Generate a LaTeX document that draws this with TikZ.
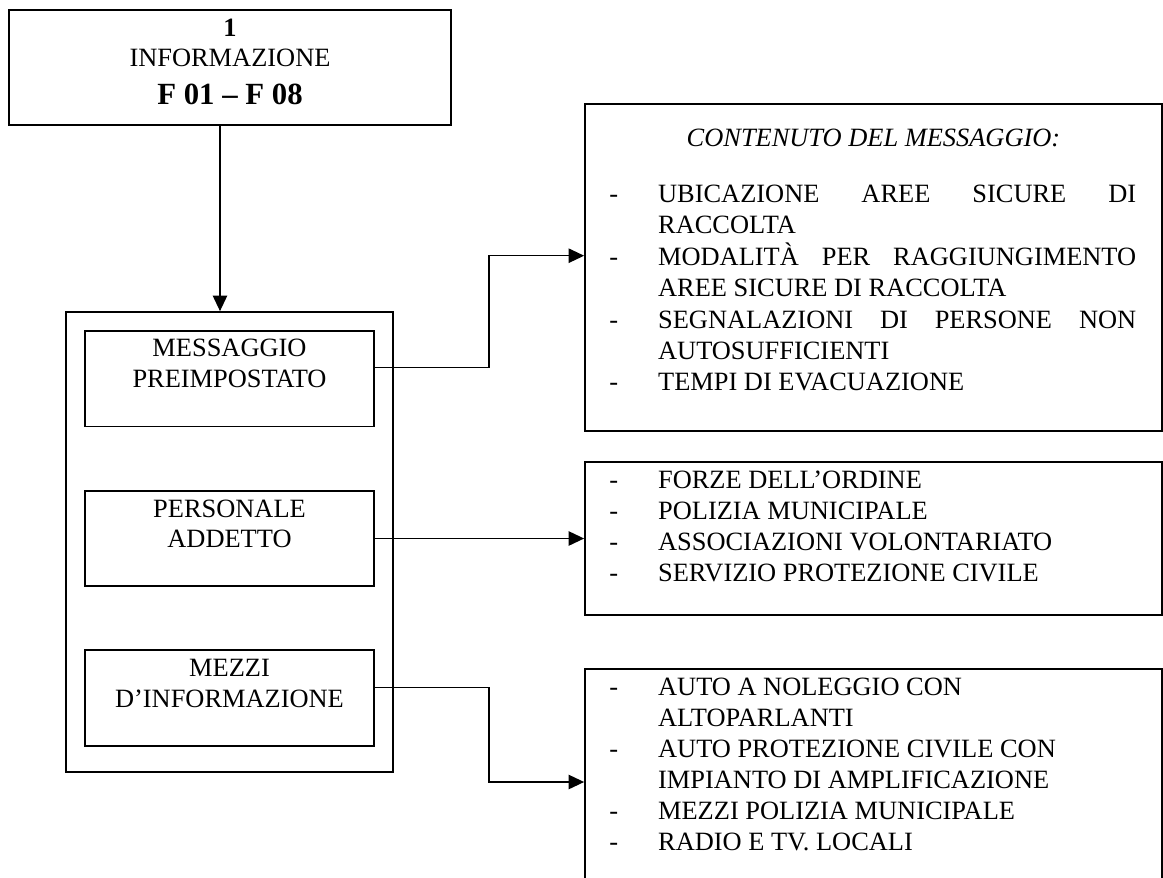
\documentclass[tikz,border=0pt]{standalone}
\usepackage{fontspec}
\setmainfont{Liberation Serif}
\usetikzlibrary{arrows.meta}
\newcommand\pxu{0.4545pt}
\newcommand\fsz{\fontsize{12}{14}\selectfont}
\begin{document}
\begin{tikzpicture}[x=0.4545pt, y=-0.4545pt,
  box/.style={draw, line width=0.8pt, inner sep=0pt},
  ctr/.style={inner sep=0pt, anchor=base, font=\fsz},
  lft/.style={inner sep=0pt, anchor=base west, font=\fsz},
  conn/.style={line width=0.6pt},
  arr/.style={line width=0.6pt, -{Triangle[length=7pt,width=6.5pt]}}]
\useasboundingbox (0,0) rectangle (1163,877);
\clip (0,0) rectangle (1163,877);

% top box
\node[box, minimum width=442*\pxu, minimum height=115*\pxu] (T) at (230,67.5) {};
\node[ctr, font=\fsz\bfseries] (t1) at (230,36.7) {1};
\node[ctr] (t2) at (230,66.7) {INFORMAZIONE};
\node[ctr, font=\fontsize{14}{16}\selectfont\bfseries] (t3) at (230,104) {F 01 – F 08};

% container and inner boxes
\node[box, minimum width=327*\pxu, minimum height=460*\pxu] (C) at (229.5,542) {};
\node[box, minimum width=289*\pxu, minimum height=95.5*\pxu] (m1) at (229.5,378.75) {};
\node[box, minimum width=289*\pxu, minimum height=95*\pxu] (m2) at (229.5,538.5) {};
\node[box, minimum width=289*\pxu, minimum height=96*\pxu] (m3) at (229.5,698) {};
\node[ctr] (m1a) at (229.5,356.7) {MESSAGGIO};
\node[ctr] (m1b) at (229.5,387.7) {PREIMPOSTATO};
\node[ctr] (m2a) at (229.5,517.7) {PERSONALE};
\node[ctr] (m2b) at (229.5,547.7) {ADDETTO};
\node[ctr] (m3a) at (229.5,676) {MEZZI};
\node[ctr] (m3b) at (229.5,707.7) {D’INFORMAZIONE};

% right boxes
\node[box, minimum width=577*\pxu, minimum height=327*\pxu] (r1) at (873.5,267.5) {};
\node[box, minimum width=577*\pxu, minimum height=153*\pxu] (r2) at (873.5,538.5) {};
\node[box, minimum width=577*\pxu, minimum height=226*\pxu] (r3) at (873.5,782) {};

% box 1 text
\node[ctr, font=\fsz\itshape] (r1t) at (873.5,146.7) {CONTENUTO DEL MESSAGGIO:};
\node[lft] (d11) at (609,202) {-};
\node[lft] (l11) at (657.7,202) {\makebox[217.3pt][s]{UBICAZIONE\hfill AREE\hfill SICURE\hfill DI}};
\node[lft] (l12) at (657.7,233.5) {RACCOLTA};
\node[lft] (d12) at (609,265) {-};
\node[lft] (l13) at (657.7,265) {\makebox[217.3pt][s]{MODALITÀ\hfill PER\hfill RAGGIUNGIMENTO}};
\node[lft] (l14) at (657.7,296.5) {AREE SICURE DI RACCOLTA};
\node[lft] (d13) at (609,328) {-};
\node[lft] (l15) at (657.7,328) {\makebox[217.3pt][s]{SEGNALAZIONI\hfill DI\hfill PERSONE\hfill NON}};
\node[lft] (l16) at (657.7,359.5) {AUTOSUFFICIENTI};
\node[lft] (d14) at (609,390) {-};
\node[lft] (l17) at (657.7,390) {TEMPI DI EVACUAZIONE};

% box 2 text
\node[lft] (d21) at (609,488) {-};
\node[lft] (l21) at (657.7,488) {FORZE DELL’ORDINE};
\node[lft] (d22) at (609,519) {-};
\node[lft] (l22) at (657.7,519) {POLIZIA MUNICIPALE};
\node[lft] (d23) at (609,550) {-};
\node[lft] (l23) at (657.7,550) {ASSOCIAZIONI VOLONTARIATO};
\node[lft] (d24) at (609,581.5) {-};
\node[lft] (l24) at (657.7,581.5) {SERVIZIO PROTEZIONE CIVILE};

% box 3 text
\node[lft] (d31) at (609,695) {-};
\node[lft] (l31) at (657.7,695) {AUTO A NOLEGGIO CON};
\node[lft] (l32) at (657.7,726) {ALTOPARLANTI};
\node[lft] (d33) at (609,757) {-};
\node[lft] (l33) at (657.7,757) {AUTO PROTEZIONE CIVILE CON};
\node[lft] (l34) at (657.7,788) {IMPIANTO DI AMPLIFICAZIONE};
\node[lft] (d35) at (609,819) {-};
\node[lft] (l35) at (657.7,819) {MEZZI POLIZIA MUNICIPALE};
\node[lft] (d36) at (609,850) {-};
\node[lft] (l36) at (657.7,850) {RADIO E TV. LOCALI};

% connectors
\coordinate (tA) at ([xshift=-10*\pxu]T.south);
\draw[arr] (tA) -- (tA |- C.north);

\coordinate (k) at (489,0);
\coordinate (p1) at ([yshift=11.45*\pxu]m1.east);
\coordinate (q1) at ([yshift=11.8*\pxu]r1.west);
\draw[arr] (p1) -- (p1 -| k) |- (q1);

\draw[arr] (m2.east) -- (m2.east -| r2.west);

\coordinate (p3) at ([yshift=10.3*\pxu]m3.east);
\draw[arr] (p3) -- (p3 -| k) |- (r3.west);
\end{tikzpicture}
\end{document}
